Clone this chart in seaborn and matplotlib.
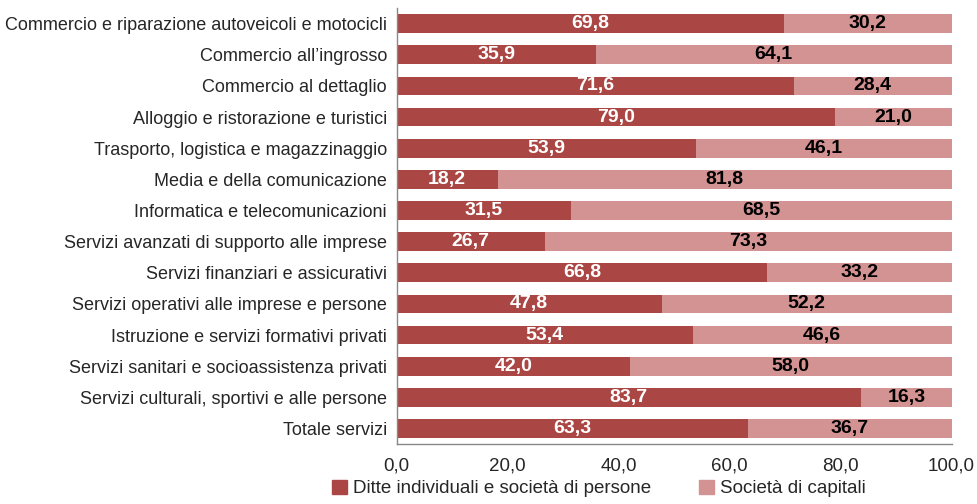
import seaborn as sns
import matplotlib.pyplot as plt
import pandas as pd
from matplotlib.patches import Patch

categories = [
    "Commercio e riparazione autoveicoli e motocicli",
    "Commercio all\u2019ingrosso",
    "Commercio al dettaglio",
    "Alloggio e ristorazione e turistici",
    "Trasporto, logistica e magazzinaggio",
    "Media e della comunicazione",
    "Informatica e telecomunicazioni",
    "Servizi avanzati di supporto alle imprese",
    "Servizi finanziari e assicurativi",
    "Servizi operativi alle imprese e persone",
    "Istruzione e servizi formativi privati",
    "Servizi sanitari e socioassistenza privati",
    "Servizi culturali, sportivi e alle persone",
    "Totale servizi",
]
ditte = [69.8, 35.9, 71.6, 79.0, 53.9, 18.2, 31.5, 26.7, 66.8, 47.8, 53.4, 42.0, 83.7, 63.3]
capitali = [30.2, 64.1, 28.4, 21.0, 46.1, 81.8, 68.5, 73.3, 33.2, 52.2, 46.6, 58.0, 16.3, 36.7]

dark = "#AA4643"
light = "#D39392"

sns.set_style("white")
plt.rcParams['font.family'] = ['Liberation Sans', 'DejaVu Sans']

df = pd.DataFrame({"cat": categories, "ditte": ditte, "capitali": capitali})
df["tot"] = df["ditte"] + df["capitali"]

fig = plt.figure(figsize=(9.77, 5.04), dpi=100)
ax = fig.add_axes([0.406, 0.119, 0.568, 0.865])

sns.barplot(data=df, y="cat", x="tot", color=light, saturation=1, width=0.6,
            linewidth=0, ax=ax, orient="h")
sns.barplot(data=df, y="cat", x="ditte", color=dark, saturation=1, width=0.6,
            linewidth=0, ax=ax, orient="h")

def fmt(v):
    return f"{v:.1f}".replace(".", ",")

for i, (d, c) in enumerate(zip(ditte, capitali)):
    ax.text(d / 2, i, fmt(d), ha="center", va="center", color="white",
            fontsize=14, fontweight="bold")
    ax.text(d + c / 2, i, fmt(c), ha="center", va="center", color="black",
            fontsize=14, fontweight="bold")

ax.set_xlim(0, 100)
ax.set_ylim(len(categories) - 0.5, -0.5)
ax.set_xticks([0, 20, 40, 60, 80, 100])
ax.set_xticklabels([fmt(t) for t in [0, 20, 40, 60, 80, 100]], fontsize=13.5)
ax.tick_params(axis="y", labelsize=13, length=0, pad=7)
ax.tick_params(axis="x", direction="out", length=5, color="#888888", pad=5)
ax.set_xlabel("")
ax.set_ylabel("")
for s in ["top", "right"]:
    ax.spines[s].set_visible(False)
for s in ["left", "bottom"]:
    ax.spines[s].set_color("#888888")
    ax.spines[s].set_linewidth(1)

handles = [Patch(color=dark, label="Ditte individuali e societ\u00e0 di persone"),
           Patch(color=light, label="Societ\u00e0 di capitali")]
fig.legend(handles=handles, loc="lower center", bbox_to_anchor=(0.613, -0.02), ncol=2,
           frameon=False, fontsize=13.5, handlelength=0.8, handleheight=0.8,
           handletextpad=0.3, columnspacing=2.6)

fig.savefig("out.png", dpi=100)
